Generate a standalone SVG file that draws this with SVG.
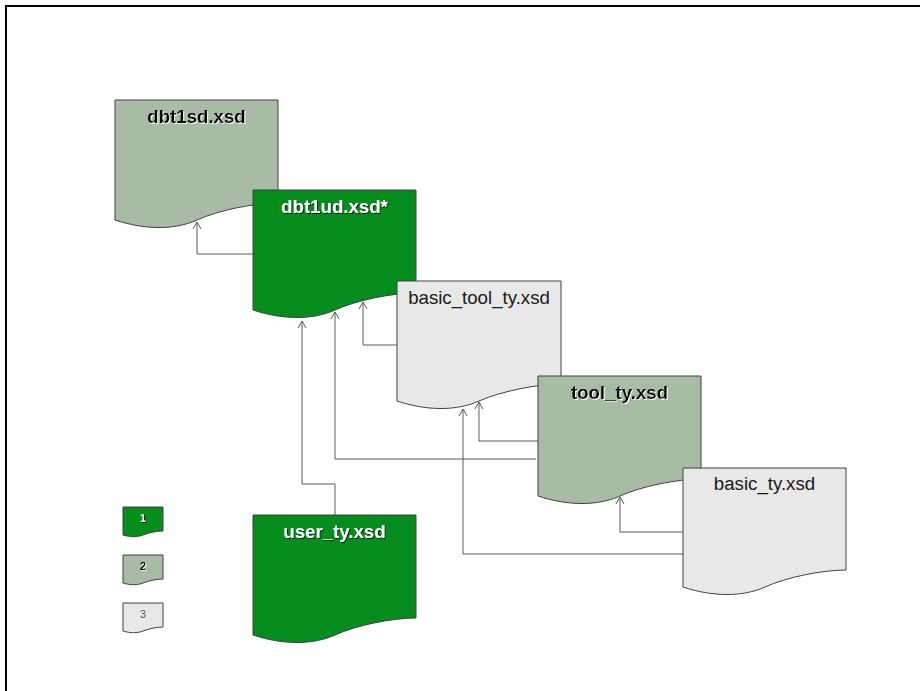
<svg xmlns="http://www.w3.org/2000/svg" width="920" height="691" viewBox="0 0 920 691">
<defs>
<style>
.doc{stroke:#404040;stroke-width:1}
.g1{fill:#048C1C}
.g2{fill:#A8BBA5}
.g3{fill:#E8E8E8}
.t{font-family:"Liberation Sans",Arial,sans-serif;font-size:18.67px;text-anchor:middle}
.bw{font-weight:bold;fill:#ffffff;filter:url(#sd)}
.bb{font-weight:bold;fill:#000000;filter:url(#sl)}
.n{fill:#1a1a1a}
.lt{font-family:"Liberation Sans",Arial,sans-serif;font-size:10.67px;text-anchor:middle}
.con{fill:none;stroke:#5a5a5a;stroke-width:1;marker-end:url(#ah)}
</style>
<filter id="sd" x="-10%" y="-30%" width="120%" height="160%">
<feDropShadow dx="1" dy="1" stdDeviation="0.4" flood-color="#000000" flood-opacity="0.8"/>
</filter>
<filter id="sl" x="-10%" y="-30%" width="120%" height="160%">
<feDropShadow dx="1" dy="1" stdDeviation="0.4" flood-color="#ffffff" flood-opacity="0.9"/>
</filter>
<marker id="ah" markerUnits="userSpaceOnUse" viewBox="-9 -6 11 12" markerWidth="11" markerHeight="12" refX="0" refY="0" orient="auto" overflow="visible">
<path d="M -7,-4 L 0,0 L -7,4" fill="none" stroke="#5a5a5a" stroke-width="1"/>
</marker>
</defs>
<rect x="0" y="0" width="920" height="691" fill="#ffffff"/>
<rect x="6" y="6" width="1000" height="1000" fill="none" stroke="#000000" stroke-width="2"/>

<g id="dbt1sd">
<path class="doc g2" d="M115,100 H278 V203 C255,203 219,210 197,220 C175,230 145,230 115,220 Z"/>
<text class="t bb" x="196.5" y="122.5">dbt1sd.xsd</text>
</g>
<g id="dbt1ud">
<path class="doc g1" d="M253,190 H416 V293 C393,293 357,300 335,310 C313,320 283,320 253,310 Z"/>
<text class="t bw" x="334.5" y="212.5">dbt1ud.xsd*</text>
</g>
<g id="basic_tool_ty">
<path class="doc g3" d="M397,281 H561 V384 C538,384 502,391 479,401 C457,411 427,411 397,401 Z"/>
<text class="t n" x="479" y="303.5">basic_tool_ty.xsd</text>
</g>
<g id="tool_ty">
<path class="doc g2" d="M538,376 H701 V479 C678,479 642,486 620,496 C598,506 568,506 538,496 Z"/>
<text class="t bb" x="619.5" y="398.5">tool_ty.xsd</text>
</g>
<g id="basic_ty">
<path class="doc g3" d="M683,468 H846 V570 C823,570 787,577 765,587 C743,597 713,597 683,587 Z"/>
<text class="t n" x="764.5" y="490">basic_ty.xsd</text>
</g>
<g id="user_ty">
<path class="doc g1" d="M253,515 H416 V618 C393,618 357,625 335,635 C313,645 283,645 253,635 Z"/>
<text class="t bw" x="334.5" y="537.5">user_ty.xsd</text>
</g>

<g id="legend1">
<path class="doc g1" d="M123,507 H163 V531 C157.4,531 148.5,532.7 143,535 C137.7,537.3 130.4,537.3 123,535 Z"/>
<text class="lt" x="143" y="522" font-weight="bold" fill="#ffffff" filter="url(#sd)">1</text>
</g>
<g id="legend2">
<path class="doc g2" d="M123,555 H163 V579 C157.4,579 148.5,580.7 143,583 C137.7,585.3 130.4,585.3 123,583 Z"/>
<text class="lt" x="143" y="570" font-weight="bold" fill="#000000" filter="url(#sl)">2</text>
</g>
<g id="legend3">
<path class="doc g3" d="M123,603 H163 V627 C157.4,627 148.5,628.7 143,631 C137.7,633.3 130.4,633.3 123,631 Z"/>
<text class="lt" x="143" y="618" fill="#555555">3</text>
</g>

<g id="connectors">
<path class="con" d="M253,254 H197 V222"/>
<path class="con" d="M397,345 H363 V302"/>
<path class="con" d="M538,441 H479 V402"/>
<path class="con" d="M536,459 H335 V312"/>
<path class="con" d="M683,532 H620 V497"/>
<path class="con" d="M683,554 H463 V409"/>
<path class="con" d="M335,515 V484 H302 V321"/>
</g>
</svg>
